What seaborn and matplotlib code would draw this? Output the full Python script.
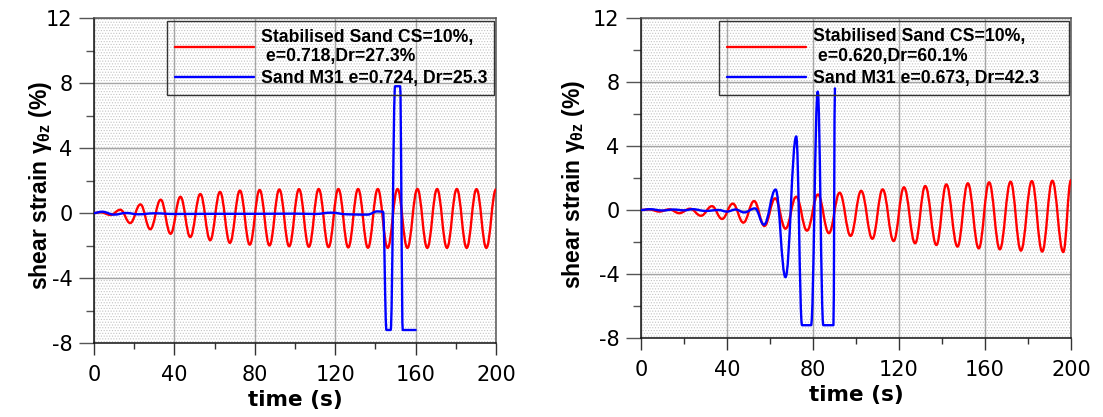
import matplotlib
matplotlib.use("Agg")
import matplotlib.pyplot as plt
from matplotlib.path import Path
from matplotlib.patches import PathPatch, Rectangle
from matplotlib.lines import Line2D
from matplotlib.ticker import MultipleLocator
import seaborn as sns

# ---------------- data (extrema) ----------------
# Left panel: e=0.718 stabilised sand (red) / sand M31 e=0.724 (blue)
left_red_t = [0, 3.3, 8.2, 13.1, 18.0, 23.1, 28.0, 33.2, 38.1, 43.0, 47.9, 52.9, 57.8,
              62.7, 67.6, 72.6, 77.5, 82.4, 87.3, 92.2, 97.1, 102.0, 106.9, 111.8,
              116.7, 121.6, 126.5, 131.4, 136.3, 141.2, 146.1, 151.0, 155.9, 160.9,
              165.8, 170.7, 175.6, 180.5, 185.4, 190.3, 195.2, 200.0]
left_red_v = [0, 0.05, -0.12, 0.2, -0.62, 0.53, -1.0, 0.82, -1.28, 1.0, -1.48, 1.17, -1.68,
              1.3, -1.84, 1.38, -1.95, 1.42, -2.0, 1.45, -2.05, 1.47, -2.08, 1.48,
              -2.1, 1.48, -2.12, 1.48, -2.14, 1.48, -2.15, 1.48, -2.15, 1.48,
              -2.15, 1.48, -2.15, 1.48, -2.15, 1.47, -2.15, 1.45]
left_blue_t = [0, 4, 10, 16, 22, 30, 40, 60, 80, 100, 110, 118, 126, 132, 136, 141,
               143.8, 145.5, 147.6, 149.8, 152.3, 153.6, 160.0]
left_blue_v = [0, 0.08, -0.1, 0.0, -0.08, -0.02, -0.06, -0.05, -0.05, -0.04, -0.06, 0.02,
               -0.08, -0.1, -0.1, 0.1, 0.08, -7.2, -7.2, 7.8, 7.8, -7.2, -7.2]

# Right panel: e=0.620 stabilised sand (red) / sand M31 e=0.673 (blue)
right_red_t = [0, 3.9, 8.5, 13.2, 17.8, 22.8, 27.9, 33.0, 37.7, 42.7, 47.6, 52.6, 57.4,
               62.4, 67.2, 72.2, 77.2, 82.3, 87.4, 92.4, 97.5, 102.4, 107.6, 112.4,
               117.5, 122.3, 127.5, 132.2, 137.4, 142.0, 147.2, 152.0, 157.1, 161.9,
               166.9, 171.9, 176.7, 181.8, 186.6, 191.3, 196.4, 200.0]
right_red_v = [0, 0.04, -0.1, 0.04, -0.2, 0.08, -0.36, 0.24, -0.56, 0.4, -0.79, 0.56, -1.0,
               0.73, -1.17, 0.83, -1.29, 0.97, -1.45, 1.08, -1.62, 1.2, -1.8, 1.29,
               -1.94, 1.42, -2.08, 1.5, -2.19, 1.6, -2.29, 1.67, -2.4, 1.73,
               -2.46, 1.77, -2.54, 1.81, -2.6, 1.83, -2.63, 1.87]
right_blue_t = [0, 4, 10, 15, 20, 24, 30, 36, 40, 44, 48, 53, 57.2, 62.6, 67.2, 72.2,
                74.9, 79.1, 82.2, 84.8, 89.5, 90.2]
right_blue_v = [0, 0.05, -0.03, 0.03, -0.02, 0.05, -0.06, 0.0, -0.1, 0.03, -0.15, 0.1,
                -0.92, 1.28, -4.2, 4.6, -7.2, -7.2, 7.4, -7.2, -7.2, 7.6]

left_labels = ["Stabilised Sand CS=10%,\n e=0.718,Dr=27.3%", "Sand M31 e=0.724, Dr=25.3"]
right_labels = ["Stabilised Sand CS=10%,\n e=0.620,Dr=60.1%", "Sand M31 e=0.673, Dr=42.3"]

x_ticks = [0, 40, 80, 120, 160, 200]
y_ticks = [-8, -4, 0, 4, 8, 12]
RED = "#ff0000"
BLUE = "#0000ff"

# ---------------- style ----------------
sns.set_style("ticks")
plt.rcParams["font.family"] = ["DejaVu Sans"]
plt.rcParams["text.color"] = "black"
plt.rcParams["axes.labelcolor"] = "black"
plt.rcParams["xtick.color"] = "black"
plt.rcParams["ytick.color"] = "black"
plt.rcParams["axes.unicode_minus"] = False
plt.rcParams["mathtext.fontset"] = "custom"
plt.rcParams["mathtext.rm"] = "Liberation Sans:bold"
plt.rcParams["mathtext.it"] = "Liberation Sans:bold"
plt.rcParams["mathtext.bf"] = "Liberation Sans:bold"
plt.rcParams["hatch.color"] = "#c4c4c4"
plt.rcParams["hatch.linewidth"] = 0.5


def smooth_curve(ax, t, v, color):
    """Smooth line through the extrema: cubic Bezier with flat tangents at each extremum."""
    verts = [(t[0], v[0])]
    codes = [Path.MOVETO]
    k = 0.4
    for i in range(1, len(t)):
        dt = t[i] - t[i - 1]
        verts += [(t[i - 1] + dt * k, v[i - 1]), (t[i] - dt * k, v[i]), (t[i], v[i])]
        codes += [Path.CURVE4] * 3
    ax.add_patch(PathPatch(Path(verts, codes), fill=False, edgecolor=color,
                           lw=1.7, zorder=3, capstyle="round", joinstyle="round"))


def style_axes(ax, labels, legend_x0, ylabel_x, ylabel_y):
    ax.set_xlim(0, 200)
    ax.set_ylim(-8, 12)
    ax.set_xticks(x_ticks)
    ax.set_yticks(y_ticks)
    ax.xaxis.set_minor_locator(MultipleLocator(20))
    ax.yaxis.set_minor_locator(MultipleLocator(2))
    ax.tick_params(axis="x", which="major", direction="out", length=8.5, width=1,
                   labelsize=15, pad=7, color="#333333")
    ax.tick_params(axis="x", which="minor", direction="out", length=4.5, width=1, color="#333333")
    ax.tick_params(axis="y", which="major", direction="out", length=10.5, width=1,
                   labelsize=15, pad=5, color="#555555")
    ax.tick_params(axis="y", which="minor", direction="out", length=5.5, width=1, color="#555555")
    ax.tick_params(top=False, right=False, which="both")
    ax.set_facecolor("white")
    ax.add_patch(Rectangle((0, 0), 1, 1, transform=ax.transAxes, facecolor="white",
                           edgecolor="#c4c4c4", hatch="......", lw=0, zorder=0.1))
    ax.set_axisbelow(True)
    ax.grid(True, which="major", color="#a5a5a5", lw=1.0)
    for side in ["left", "bottom"]:
        ax.spines[side].set_color("#111111")
        ax.spines[side].set_linewidth(1.1)
    for side in ["top", "right"]:
        ax.spines[side].set_color("#555555")
        ax.spines[side].set_linewidth(1.1)
    ax.set_xlabel("time (s)", fontsize=15.5, fontweight="bold", labelpad=4)
    ax.set_ylabel("shear strain $\\gamma_{\\theta z}$ (%)", fontfamily="Liberation Sans",
                  fontweight="bold", fontsize=16.5)
    ax.yaxis.set_label_coords(ylabel_x, ylabel_y)
    handles = [Line2D([], [], color=RED, lw=1.7), Line2D([], [], color=BLUE, lw=1.7)]
    leg = ax.legend(handles, labels, loc="upper left",
                    bbox_to_anchor=(legend_x0, 0.5, 0.995 - legend_x0, 0.492), mode="expand",
                    borderaxespad=0, prop={"family": "Liberation Sans", "weight": "bold", "size": 12.7},
                    handlelength=4.5, handletextpad=0.4, borderpad=0.45, labelspacing=0.3,
                    frameon=True, fancybox=False)
    frame = leg.get_frame()
    frame.set_facecolor("none")
    frame.set_edgecolor("#333333")
    frame.set_linewidth(1.0)
    frame.set_alpha(None)
    for txt in leg.get_texts():
        txt.set_linespacing(1.2)
        txt.set_color("black")


fig = plt.figure(figsize=(11.03, 4.17), dpi=100)
ax1 = fig.add_axes([94 / 1103, 1 - 343 / 417, 402 / 1103, 325 / 417])
ax2 = fig.add_axes([641 / 1103, 1 - 338 / 417, 430 / 1103, 320 / 417])

smooth_curve(ax1, left_red_t, left_red_v, RED)
smooth_curve(ax1, left_blue_t, left_blue_v, BLUE)
smooth_curve(ax2, right_red_t, right_red_v, RED)
smooth_curve(ax2, right_blue_t, right_blue_v, BLUE)

style_axes(ax1, left_labels, (167 - 94) / 402, -0.1, 0.485)
style_axes(ax2, right_labels, (719 - 641) / 430, -0.126, 0.478)

fig.savefig("out.png", dpi=100)
